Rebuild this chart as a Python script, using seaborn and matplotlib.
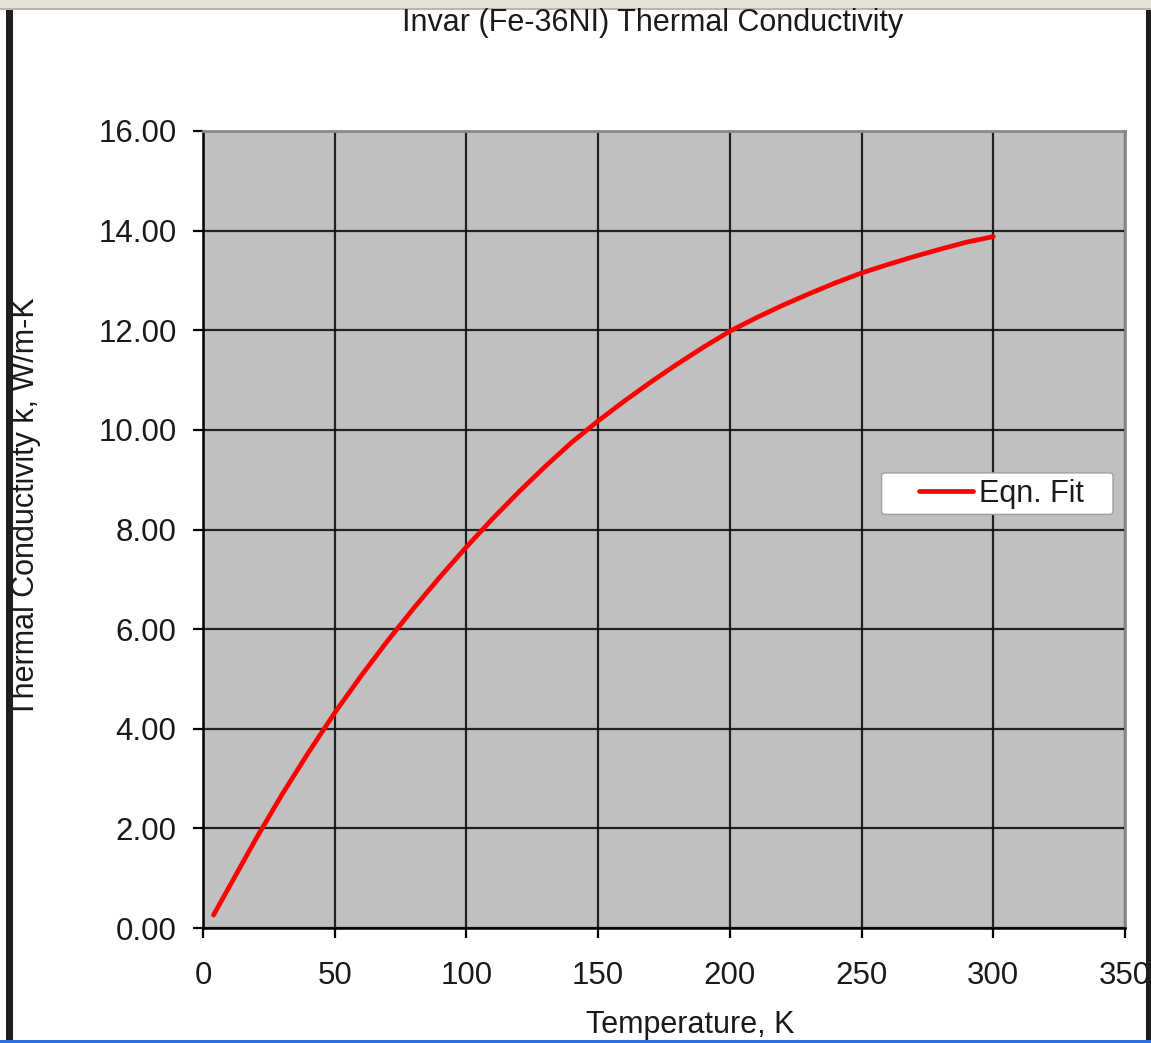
import matplotlib
matplotlib.use("Agg")
import matplotlib.pyplot as plt
from matplotlib.patches import Rectangle, FancyBboxPatch
import seaborn as sns
import pandas as pd

# Invar (Fe-36Ni) thermal conductivity, equation fit
temperature_k = [4, 10, 20, 30, 40, 50, 60, 70, 80, 90, 100, 110, 120, 130,
                 140, 150, 160, 170, 180, 190, 200, 210, 220, 230, 240, 250,
                 260, 270, 280, 290, 300]
conductivity = [0.26, 0.83, 1.78, 2.68, 3.52, 4.32, 5.06, 5.76, 6.42, 7.05,
                7.65, 8.22, 8.76, 9.27, 9.75, 10.18, 10.58, 10.96, 11.32,
                11.66, 11.98, 12.25, 12.50, 12.73, 12.95, 13.15, 13.32,
                13.48, 13.63, 13.77, 13.88]

x_ticks = [0, 50, 100, 150, 200, 250, 300, 350]
y_ticks = [0, 2, 4, 6, 8, 10, 12, 14, 16]
y_tick_labels = [f"{v:.2f}" for v in y_ticks]

df = pd.DataFrame({"T": temperature_k, "k": conductivity})

sns.set_style("ticks", {"axes.facecolor": "#c0c0c0"})
plt.rcParams["font.family"] = ["Liberation Sans", "DejaVu Sans"]

TEXT = "#1a1a1a"

fig = plt.figure(figsize=(11.51, 10.43), dpi=100)
fig.patch.set_facecolor("white")

# window frame around the chart
fig.patches.append(Rectangle((0, 1 - 8 / 1043), 1, 8 / 1043, transform=fig.transFigure,
                             facecolor="#e4e1d5", edgecolor="none", zorder=0))
fig.patches.append(Rectangle((0, 1 - 10 / 1043), 1, 2 / 1043, transform=fig.transFigure,
                             facecolor="#b8b6ae", edgecolor="none", zorder=0))
fig.patches.append(Rectangle((6 / 1151, 3 / 1043), 7 / 1151, 1 - 13 / 1043,
                             transform=fig.transFigure, facecolor="#1e1e1e",
                             edgecolor="none", zorder=0))
fig.patches.append(Rectangle((1146 / 1151, 3 / 1043), 5 / 1151, 1 - 13 / 1043,
                             transform=fig.transFigure, facecolor="#1e1e1e",
                             edgecolor="none", zorder=0))
fig.patches.append(Rectangle((0, 0), 1, 3 / 1043, transform=fig.transFigure,
                             facecolor="#2f6fe4", edgecolor="none", zorder=0))

ax = fig.add_axes([203 / 1151, 115 / 1043, 922 / 1151, 797 / 1043])

sns.lineplot(data=df, x="T", y="k", ax=ax, color="#ff0000", linewidth=3.4,
             label="Eqn. Fit", zorder=3)

ax.set_xlim(0, 350)
ax.set_ylim(0, 16)
ax.set_xticks(x_ticks)
ax.set_xticklabels([str(v) for v in x_ticks])
ax.set_yticks(y_ticks)
ax.set_yticklabels(y_tick_labels)

ax.grid(True, color="#111111", linewidth=1.6, alpha=0.9, zorder=1)
ax.set_axisbelow(True)

for side in ("left", "bottom"):
    ax.spines[side].set_color("black")
    ax.spines[side].set_linewidth(1.8)
for side in ("top", "right"):
    ax.spines[side].set_visible(True)
    ax.spines[side].set_color("#8a8a8a")
    ax.spines[side].set_linewidth(2.0)

ax.tick_params(axis="both", direction="out", length=7, width=1.6,
               color="black", labelsize=22.5, labelcolor=TEXT)
ax.tick_params(axis="y", pad=12)
ax.tick_params(axis="x", pad=17)

ax.set_xlabel("Temperature, K", fontsize=22, color=TEXT)
ax.set_ylabel("Thermal Conductivity k, W/m-K", fontsize=22, color=TEXT)
ax.xaxis.set_label_coords(0.528, -0.103)
ax.yaxis.set_label_coords(-0.176, 0.528)

fig.text(653 / 1151, 1 - 23 / 1043, "Invar (Fe-36NI) Thermal Conductivity",
         ha="center", va="center", fontsize=22, color=TEXT)

# legend box with the entry placed inside it
box = FancyBboxPatch((0.736, 0.519), 0.251, 0.052,
                     boxstyle="round,pad=0,rounding_size=0.004",
                     transform=ax.transAxes, facecolor="white",
                     edgecolor="#a0a0a0", linewidth=1.0, zorder=4)
ax.add_patch(box)
leg = ax.legend(loc="center left", bbox_to_anchor=(0.777, 0.545), fontsize=22,
                frameon=False, borderpad=0, handlelength=1.75,
                handletextpad=0.2, borderaxespad=0)
leg.set_zorder(5)
for t in leg.get_texts():
    t.set_color(TEXT)

fig.savefig("out.png", dpi=100)
